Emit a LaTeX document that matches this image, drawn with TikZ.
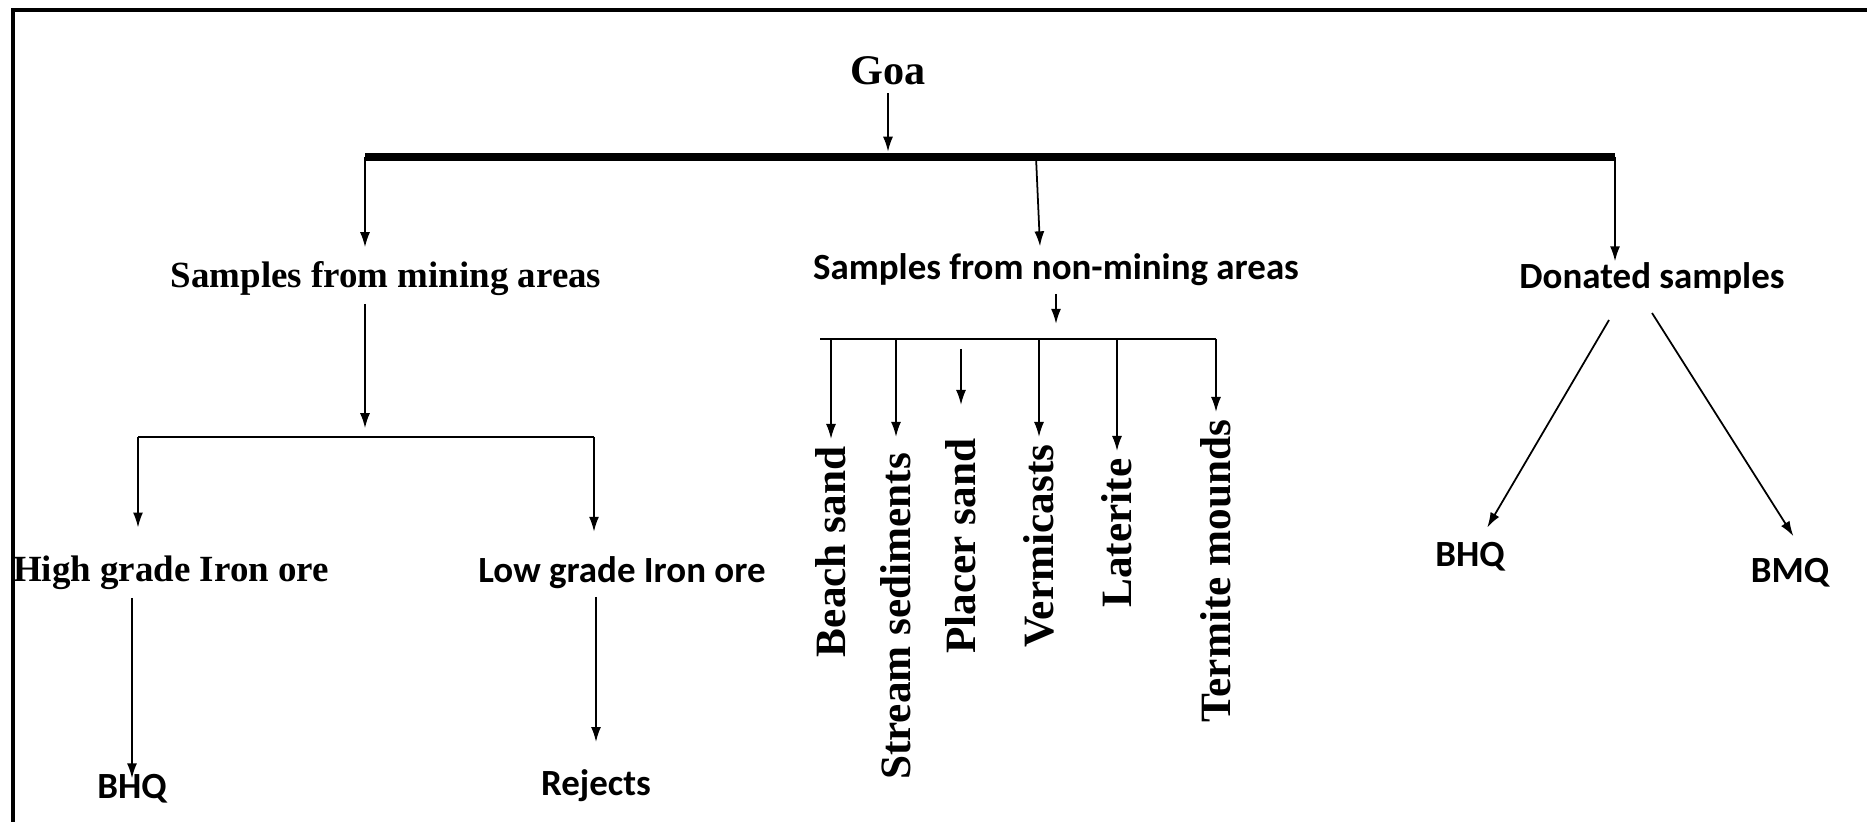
\documentclass[tikz,border=0pt]{standalone}
\usepackage{fontspec}
\setmainfont{Liberation Serif}
\newfontfamily\calibrifont{Carlito}
\usetikzlibrary{positioning, arrows.meta, calc}

\begin{document}
\begin{tikzpicture}[
        x=0.01cm,
        y=-0.01cm,
        serifbox/.style={
            inner sep=2pt,
            font=\bfseries\fontsize{10.5}{12}\selectfont
        },
        sansbox/.style={
            inner sep=2pt,
            font=\calibrifont\bfseries\fontsize{10.5}{12}\selectfont
        },
        upright/.style={
            inner sep=2pt,
            rotate=90,
            anchor=east,
            font=\bfseries\fontsize{12.3}{14}\selectfont
        },
        arrow/.style={-{Latex[length=1.5mm, width=1mm]}, line width=0.5pt},
        mainbar/.style={line width=2.4pt},
        branch/.style={line width=0.6pt},
        frame/.style={line width=1.2pt}
        ]
        
        \fill[white] (0,0) rectangle (1867,822);
        \useasboundingbox (0,0) rectangle (1867,822);
        
        % Frame (cut off at right and bottom)
        \draw[frame] (13,822) -- (13,10) -- (1867,10);
        
        % Root and main bar
        \node[serifbox, font=\bfseries\fontsize{12}{14}\selectfont, anchor=base] (goa) at (888,85) {Goa};
        \coordinate (barL) at (365,157);
        \coordinate (barM) at (1036,157);
        \coordinate (barR) at (1615,157);
        \draw[mainbar] (barL) -- (barR);
        \draw[arrow, shorten >=1.5pt] (goa.south) -- (goa.south |- barL);
        
        % Three sample groups
        \node[serifbox, anchor=base] (mining) at (386,288) {Samples from mining areas};
        \node[sansbox, anchor=base] (nonmining) at (1056,280) {Samples from non-mining areas};
        \node[sansbox, anchor=base] (donated) at (1652,289) {Donated samples};
        
        \draw[arrow, shorten >=2pt] (barL) -- (barL |- mining.north);
        \draw[arrow] (barM) -- ($(barM |- nonmining.north)+(4,0)$);
        \draw[arrow, shorten >=-1.7pt] (barR) -- (barR |- donated.north);
        
        % Mining areas
        \coordinate (mineL) at (138,437);
        \coordinate (mineR) at (594,437);
        \draw[arrow, shorten >=2.5pt] (barL |- mining.south) -- (barL |- mineL);
        \draw[branch] (mineL) -- (mineR);
        
        \node[serifbox, anchor=base] (highgrade) at (171,582) {High grade Iron ore};
        \node[sansbox, anchor=base] (lowgrade) at (622,583) {Low grade Iron ore};
        \draw[arrow, shorten >=6pt] (mineL) -- (mineL |- highgrade.north);
        \draw[arrow, shorten >=5pt] (mineR) -- (mineR |- lowgrade.north);
        
        \node[sansbox, anchor=base] (bhqmine) at (132,798) {BHQ};
        \node[sansbox, anchor=base] (rejects) at (596,795) {Rejects};
        \draw[arrow, shorten >=-3.5pt] (bhqmine.north |- highgrade.south) -- (bhqmine.north);
        \draw[arrow, shorten >=5.5pt] (rejects.north |- lowgrade.south) -- (rejects.north);
        
        % Non-mining areas
        \coordinate (soilL) at (820,339);
        \coordinate (soilR) at (1216,339);
        \draw[arrow, shorten >=4.3pt] (nonmining.south) -- (nonmining.south |- soilL);
        \draw[branch] (soilL) -- (soilR);
        
        \node[upright] (beach) at (831,439) {Beach sand};
        \node[upright] (stream) at (896,445) {Stream sediments};
        \node[upright] (placer) at (961,431) {Placer sand};
        \node[upright] (vermi) at (1039,437) {Vermicasts};
        \node[upright] (laterite) at (1117,451) {Laterite};
        \node[upright] (termite) at (1216,412) {Termite mounds};
        
        \draw[arrow] (soilL -| beach.east) -- (beach.east);
        \draw[arrow, shorten >=2.3pt] (soilL -| stream.east) -- (stream.east);
        \draw[arrow, shorten <=2.8pt, shorten >=7.4pt] (soilL -| placer.east) -- (placer.east);
        \draw[arrow] (soilL -| vermi.east) -- (vermi.east);
        \draw[arrow] (soilL -| laterite.east) -- (laterite.east);
        \draw[arrow] (soilR) -- (termite.east);
        
        % Donated samples
        \coordinate (donL) at (1609,320);
        \coordinate (donR) at (1652,313);
        \node[sansbox, anchor=base] (bhqdon) at (1470,567) {BHQ};
        \node[sansbox, anchor=base] (bmq) at (1790,583) {BMQ};
        \draw[arrow, shorten >=2.5pt] (donL) -- (bhqdon.60);
        \draw[arrow, shorten >=5pt] (donR) -- (bmq.60);
        
    \end{tikzpicture}
\end{document}
